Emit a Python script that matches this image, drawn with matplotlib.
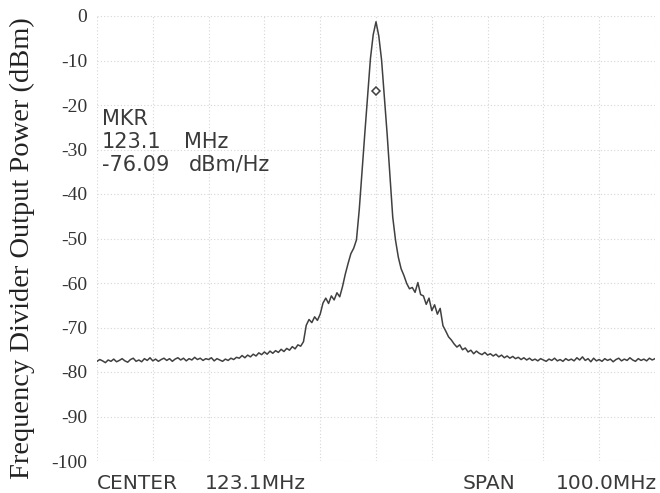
import numpy as np
import matplotlib
matplotlib.use("Agg")
import matplotlib.pyplot as plt

# analyzer settings
center_mhz = 123.1
span_mhz = 100.0

# trace, one value every 0.5 MHz across the span (dBm)
power_dbm = [
    -77.6, -77.2, -77.5, -77.9, -77.3, -77.6, -77.1, -77.7, -77.4, -77.0,
    -77.5, -77.8, -77.2, -76.9, -77.6, -77.3, -77.7, -77.0, -77.4, -76.8,
    -77.5, -77.1, -77.6, -77.2, -76.9, -77.4, -77.0, -77.6, -77.1, -76.8,
    -77.3, -76.9, -77.5, -77.0, -77.3, -76.7, -77.2, -76.9, -77.4, -77.0,
    -77.2, -76.8, -77.5, -77.0, -77.3, -77.6, -77.1, -77.4, -76.9, -77.2,
    -76.7, -76.9, -76.3, -76.8, -76.2, -76.6, -76.0, -76.4, -75.7, -76.1,
    -75.5, -76.0, -75.3, -75.8, -75.2, -75.6, -74.9, -75.4, -74.7, -75.1,
    -74.3, -74.8, -73.9, -74.2, -73.2, -69.5, -68.2, -68.9, -67.6, -68.4,
    -67.0, -64.5, -63.4, -64.6, -62.9, -63.8, -62.2, -63.1, -60.8, -58.0,
    -55.6, -53.4, -52.2, -50.3, -43.5, -34.8, -26.3, -17.8, -9.6, -4.2,
    -1.3, -4.5, -9.9, -18.2, -26.6, -36.0, -45.2, -50.4, -54.2, -56.8,
    -58.3, -60.1, -61.3, -61.0, -62.1, -59.9, -62.6, -62.9, -64.8, -63.4,
    -66.2, -64.9, -67.0, -65.7, -69.6, -70.8, -72.1, -72.8, -73.7, -74.4,
    -73.9, -75.0, -74.6, -75.5, -75.1, -75.9, -75.3, -75.8, -76.1, -75.6,
    -76.2, -75.9, -76.4, -76.0, -76.6, -76.2, -76.8, -76.4, -76.9, -76.5,
    -77.0, -76.7, -77.2, -76.8, -77.3, -76.9, -77.4, -77.1, -77.5, -77.0,
    -77.3, -77.6, -77.1, -77.4, -76.9, -77.5, -77.2, -77.6, -77.0, -77.4,
    -77.1, -77.5, -76.8, -77.3, -76.6, -77.4, -77.0, -77.7, -76.9, -77.5,
    -77.2, -77.6, -77.0, -77.4, -77.1, -77.7, -77.2, -76.9, -77.5, -77.1,
    -77.4, -76.8, -77.3, -77.6, -77.0, -77.4, -77.1, -77.5, -76.9, -77.3,
    -77.0,
]

marker_freq = [123.1]
marker_level = [-16.9]

y_ticks = [0, -10, -20, -30, -40, -50, -60, -70, -80, -90, -100]

start = center_mhz - span_mhz / 2
stop = center_mhz + span_mhz / 2
freq_mhz = np.linspace(start, stop, len(power_dbm))

W, H = 660, 493
fig = plt.figure(figsize=(W / 100, H / 100), dpi=100)
ax = fig.add_axes([97 / W, 1 - 461 / H, 558 / W, 445 / H])

ax.plot(freq_mhz, power_dbm, color="#404040", linewidth=1.1)
ax.plot(marker_freq, marker_level, marker="D", markersize=4.5, markerfacecolor="white",
        markeredgecolor="#404040", markeredgewidth=1.1, linestyle="none")

ax.set_xlim(start, stop)
ax.set_ylim(-100, 0)
ax.set_xticks(np.arange(start, stop + 0.01, span_mhz / 10))
ax.set_yticks(y_ticks)
ax.set_xticklabels([])
ax.set_yticklabels([str(t) for t in y_ticks], family="Liberation Serif", fontsize=14, color="#333333")
ax.tick_params(length=0, pad=7)
ax.grid(True, color="#d6d6d6", linestyle=(0, (1, 2)), linewidth=0.8)
for s in ax.spines.values():
    s.set_visible(False)


def screen_text(x, y, s, size):
    # x, y in pixels from top-left, y is the baseline
    fig.text(x / W, 1 - y / H, s, va="baseline", ha="left", family="DejaVu Sans",
             fontsize=size, color="#3a3a3a")


screen_text(102, 125, "MKR", 15)
screen_text(102, 148, "123.1", 15)
screen_text(184, 148, "MHz", 15)
screen_text(102, 171, "-76.09", 15)
screen_text(189, 171, "dBm/Hz", 15)

screen_text(97, 489, "CENTER", 14.5)
screen_text(205, 489, "123.1MHz", 14.5)
screen_text(463, 489, "SPAN", 14.5)
screen_text(556, 489, "100.0MHz", 14.5)

fig.text(22 / W, 1 - 248 / H, "Frequency Divider Output Power (dBm)", rotation=90,
         ha="center", va="center", family="Liberation Serif", fontsize=20.5, color="#222222")

fig.savefig("out.png", dpi=100)
